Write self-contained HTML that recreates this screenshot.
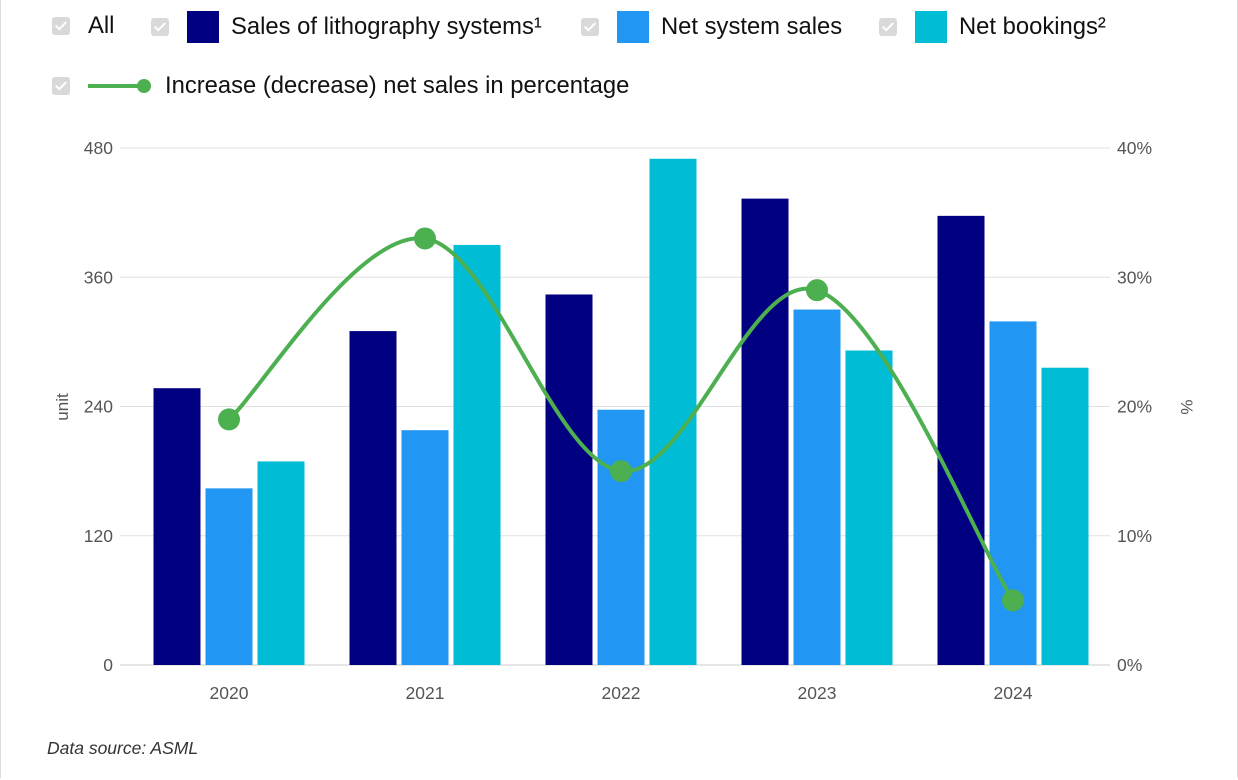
<!DOCTYPE html>
<html><head><meta charset="utf-8"><style>
body{margin:0;width:1238px;height:780px;background:#fff;font-family:"Liberation Sans",sans-serif;overflow:hidden;position:relative}
.frame{position:absolute;left:0;top:0;width:1236px;height:778px;border-left:1px solid #ddd;border-right:1px solid #ddd}
.leg{position:absolute;display:flex;align-items:center;font-size:23.8px;color:#111}
.cb{width:18px;height:18px;background:#d9d9d9;border-radius:3px;display:inline-block;position:relative}
.cb:after{content:"";position:absolute;left:6px;top:2px;width:4px;height:9px;border:solid #fff;border-width:0 2px 2px 0;transform:rotate(45deg)}
.sw{width:32px;height:32px;display:inline-block}
.src{position:absolute;left:47px;top:738px;font-size:17.5px;font-style:italic;color:#333}
</style></head><body>
<div class="frame"></div>
<div class="leg" style="left:52px;top:12px"><span class="cb"></span><span style="margin-left:18px">All</span></div>
<div class="leg" style="left:151px;top:11px"><span class="cb"></span><span class="sw" style="background:#000080;margin-left:18px"></span><span style="margin-left:12px">Sales of lithography systems¹</span></div>
<div class="leg" style="left:581px;top:11px"><span class="cb"></span><span class="sw" style="background:#2196f3;margin-left:18px"></span><span style="margin-left:12px">Net system sales</span></div>
<div class="leg" style="left:879px;top:11px"><span class="cb"></span><span class="sw" style="background:#00bcd4;margin-left:18px"></span><span style="margin-left:12px">Net bookings²</span></div>
<div class="leg" style="left:52px;top:72px"><span class="cb"></span><svg width="66" height="20" style="margin-left:18px"><line x1="0" y1="10" x2="50" y2="10" stroke="#4caf50" stroke-width="4"/><circle cx="56" cy="10" r="7" fill="#4caf50"/></svg><span style="margin-left:11px">Increase (decrease) net sales in percentage</span></div>
<svg id="chart" width="1238" height="780" style="position:absolute;left:0;top:0"></svg>
<div class="src">Data source: ASML</div>
<script>
const categories=["2020","2021","2022","2023","2024"];
const salesLitho=[257,310,344,433,417];
const netSystem=[164,218,237,330,319];
const netBookings=[189,390,470,292,276];
const pctIncrease=[19,33,15,29,5];
const leftTicks=[0,120,240,360,480];
const rightTicks=[0,10,20,30,40];
const NS="http://www.w3.org/2000/svg";
const svg=document.getElementById("chart");
const L=131,R=1111,T=148,B=665;
const y=v=>B-(v/480)*(B-T);
const y2=v=>B-(v/40)*(B-T);
const step=(R-L)/categories.length;
const xc=i=>L+step*(i+0.5);
function mk(t,a){const e=document.createElementNS(NS,t);for(const k in a)e.setAttribute(k,a[k]);svg.appendChild(e);return e;}
leftTicks.forEach((t,i)=>{
 const g=mk("line",{x1:120,x2:1110,y1:y(t),y2:y(t),stroke:i==0?"#ccc":"#e0e0e0","stroke-width":1});
 
 
 const l=mk("text",{x:113,y:y(t)+6,"text-anchor":"end","font-size":17.5,fill:"#555"});l.textContent=t;
 
 
});
rightTicks.forEach(t=>{
 const l=mk("text",{x:1117,y:y2(t)+6,"font-size":17.5,fill:"#555"});l.textContent=t+"%";
 
 
});
const yl=mk("text",{x:68,y:407,"text-anchor":"middle","font-size":17,fill:"#555",transform:"rotate(-90 68 407)"});yl.textContent="unit";


const yr=mk("text",{x:1181,y:407,"text-anchor":"middle","font-size":17,fill:"#555",transform:"rotate(90 1181 407)"});yr.textContent="%";


const series=[[salesLitho,"#000080","bar-sales-lithography"],[netSystem,"#2196f3","bar-net-system-sales"],[netBookings,"#00bcd4","bar-net-bookings"]];
const bw=47,gap=5;
categories.forEach((c,i)=>{
 series.forEach((s,j)=>{
  const x=xc(i)-(3*bw+2*gap)/2+j*(bw+gap);
  const r=mk("rect",{x:x,y:y(s[0][i]),width:bw,height:B-y(s[0][i]),fill:s[1]});
  
  
 });
 const l=mk("text",{x:xc(i),y:699,"text-anchor":"middle","font-size":17.5,fill:"#555"});l.textContent=c;
 
 
});
const pts=pctIncrease.map((v,i)=>[xc(i),y2(v)]);
let d="M"+pts[0][0]+","+pts[0][1];
for(let i=0;i<pts.length-1;i++){
 const p0=pts[Math.max(0,i-1)],p1=pts[i],p2=pts[i+1],p3=pts[Math.min(pts.length-1,i+2)];
 const k=0.17;
 const c1=[p1[0]+(p2[0]-p0[0])*k,p1[1]+(p2[1]-p0[1])*k];
 const c2=[p2[0]-(p3[0]-p1[0])*k,p2[1]-(p3[1]-p1[1])*k];
 d+=` C${c1[0]},${c1[1]} ${c2[0]},${c2[1]} ${p2[0]},${p2[1]}`;
}
const ln=mk("path",{d:d,fill:"none",stroke:"#4caf50","stroke-width":4});


pts.forEach(p=>{
 const c=mk("circle",{cx:p[0],cy:p[1],r:11,fill:"#4caf50"});
 
 
});
</script>
</body></html>
